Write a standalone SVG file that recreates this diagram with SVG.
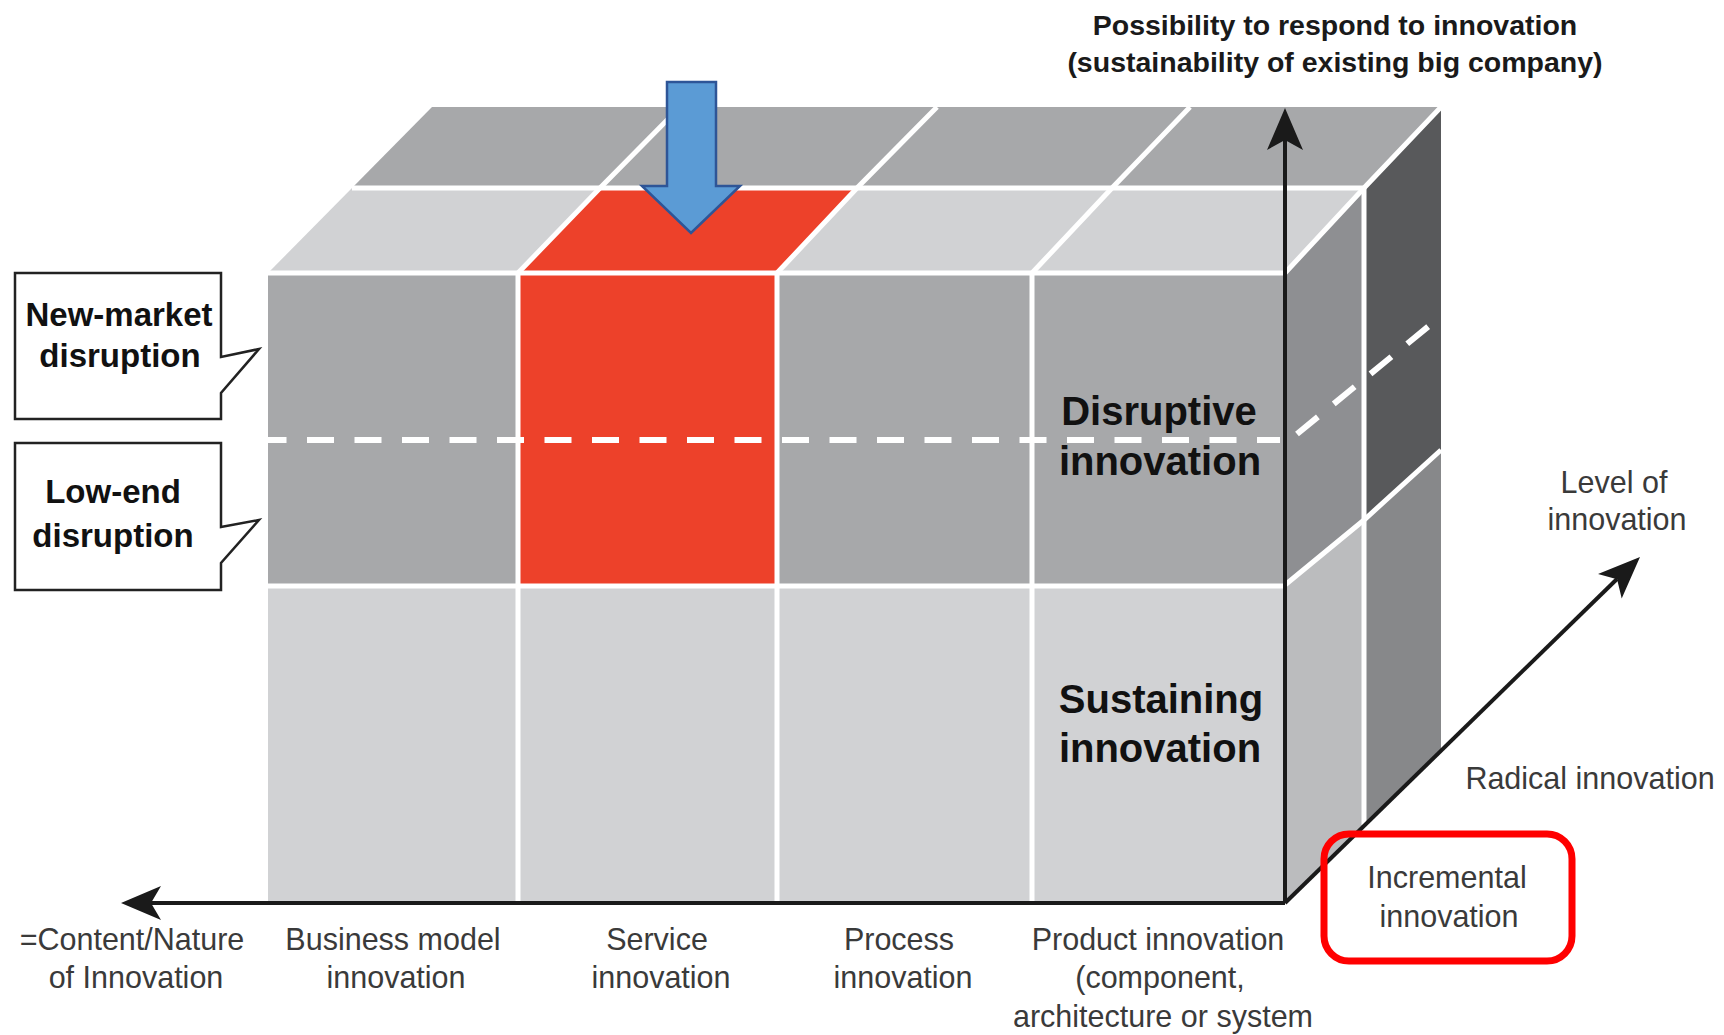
<svg xmlns="http://www.w3.org/2000/svg" width="1724" height="1035" viewBox="0 0 1724 1035">
<style>
.lbl{font-family:"Liberation Sans",Arial,sans-serif;font-size:30.5px;fill:#3a3a3a;text-anchor:middle}
.big{font-family:"Liberation Sans",Arial,sans-serif;font-weight:bold;font-size:40px;fill:#111;text-anchor:middle}
.call{font-family:"Liberation Sans",Arial,sans-serif;font-weight:bold;font-size:33px;fill:#111;text-anchor:middle}
.title{font-family:"Liberation Sans",Arial,sans-serif;font-weight:bold;font-size:28.5px;fill:#1a1a1a;text-anchor:middle}
.wl{stroke:#fff;stroke-width:5;fill:none}
.dash{stroke:#fff;stroke-width:6;fill:none;stroke-dasharray:27 20.5}
.ax{stroke:#1a1a1a;stroke-width:4;fill:none}
.ah{fill:#1a1a1a}
.box{fill:#fff;stroke:#222;stroke-width:2.5}
</style>
<rect width="1724" height="1035" fill="#fff"/>

<g id="cube">
  <!-- top face -->
  <polygon points="352,188 1364,188 1441,107 432,107" fill="#a7a8aa"/>
  <polygon points="268,273 1285,273 1364,188 352,188" fill="#d1d2d4"/>
  <polygon points="518,273 777,273 857,188 600,188" fill="#ed412a"/>
  <!-- front face -->
  <rect x="268" y="273" width="1017" height="313" fill="#a7a8aa"/>
  <rect x="518" y="273" width="259" height="313" fill="#ed412a"/>
  <rect x="268" y="586" width="1017" height="316" fill="#d1d2d4"/>
  <!-- right face -->
  <polygon points="1285,273 1364,188 1364,520 1285,585" fill="#8e8f92"/>
  <polygon points="1285,585 1364,520 1364,825 1285,902" fill="#bbbcbe"/>
  <polygon points="1364,188 1441,107 1441,450 1364,520" fill="#58595b"/>
  <polygon points="1364,520 1441,450 1441,750 1364,825" fill="#87888a"/>
  <!-- white separators -->
  <line class="wl" x1="268" y1="273" x2="1285" y2="273"/>
  <line class="wl" x1="352" y1="188" x2="1364" y2="188"/>
  <polyline class="wl" points="518,273 600,188 680,107"/>
  <polyline class="wl" points="777,273 857,188 937,107"/>
  <polyline class="wl" points="1032,273 1112,188 1190,107"/>
  <polyline class="wl" points="1285,273 1364,188 1441,107"/>
  <line class="wl" x1="518" y1="273" x2="518" y2="902"/>
  <line class="wl" x1="777" y1="273" x2="777" y2="902"/>
  <line class="wl" x1="1032" y1="273" x2="1032" y2="902"/>
  <line class="wl" x1="268" y1="586" x2="1285" y2="586" stroke-width="6"/>
  <line class="wl" x1="1364" y1="188" x2="1364" y2="825"/>
  <polyline class="wl" points="1285,585 1364,520 1441,450"/>
  <!-- dashed boundary -->
  <line class="dash" x1="268" y1="440" x2="1280" y2="440" stroke-dashoffset="8.5"/>
  <line class="dash" x1="1297" y1="434" x2="1435" y2="321"/>
</g>

<g id="zone-labels">
  <text class="big" x="1159" y="425">Disruptive</text>
  <text class="big" x="1160" y="475">innovation</text>
  <text class="big" x="1161" y="713">Sustaining</text>
  <text class="big" x="1160" y="762">innovation</text>
</g>

<g id="connectors">
  <line class="ax" x1="1285" y1="903" x2="150" y2="903"/>
  <polygon class="ah" points="121,903 161,886 151,903 161,920"/>
  <line class="ax" x1="1285" y1="903" x2="1285" y2="140"/>
  <polygon class="ah" points="1285,108 1303,150 1285,140 1267,150"/>
  <line class="ax" x1="1285" y1="903" x2="1617" y2="579"/>
  <polygon class="ah" points="1640,557 1621.7,598.5 1617.1,579.3 1598,574.1"/>
</g>

<g id="blue-arrow">
  <polygon points="667,82 716,82 716,186 740,186 691,233 642,186 667,186" fill="#5b9bd5" stroke="#2e5597" stroke-width="2.5"/>
</g>

<g id="callout-new-market">
  <path class="box" d="M15,273 H221 V357 L259,349 L221,393 V419 H15 Z"/>
  <text class="call" x="119" y="326">New-market</text>
  <text class="call" x="120" y="367">disruption</text>
</g>

<g id="callout-low-end">
  <path class="box" d="M15,443 H221 V527 L259,520 L221,563 V590 H15 Z"/>
  <text class="call" x="113" y="503">Low-end</text>
  <text class="call" x="113" y="547">disruption</text>
</g>

<g id="axis-title">
  <text class="title" x="1335" y="35">Possibility to respond to innovation</text>
  <text class="title" x="1335" y="72">(sustainability of existing big company)</text>
</g>

<g id="level-label">
  <text class="lbl" x="1614" y="493">Level of</text>
  <text class="lbl" x="1617" y="530">innovation</text>
</g>

<g id="radical-label">
  <text class="lbl" x="1590" y="789">Radical innovation</text>
</g>

<g id="incremental-label">
  <rect x="1324" y="834" width="248" height="127" rx="25" fill="none" stroke="#ff0000" stroke-width="7"/>
  <text class="lbl" x="1447" y="888">Incremental</text>
  <text class="lbl" x="1449" y="927">innovation</text>
</g>

<g id="column-labels">
  <text class="lbl" x="132" y="950">=Content/Nature</text>
  <text class="lbl" x="136" y="988">of Innovation</text>
  <text class="lbl" x="393" y="950">Business model</text>
  <text class="lbl" x="396" y="988">innovation</text>
  <text class="lbl" x="657" y="950">Service</text>
  <text class="lbl" x="661" y="988">innovation</text>
  <text class="lbl" x="899" y="950">Process</text>
  <text class="lbl" x="903" y="988">innovation</text>
  <text class="lbl" x="1158" y="950">Product innovation</text>
  <text class="lbl" x="1160" y="988">(component,</text>
  <text class="lbl" x="1163" y="1027">architecture or system</text>
</g>
</svg>
